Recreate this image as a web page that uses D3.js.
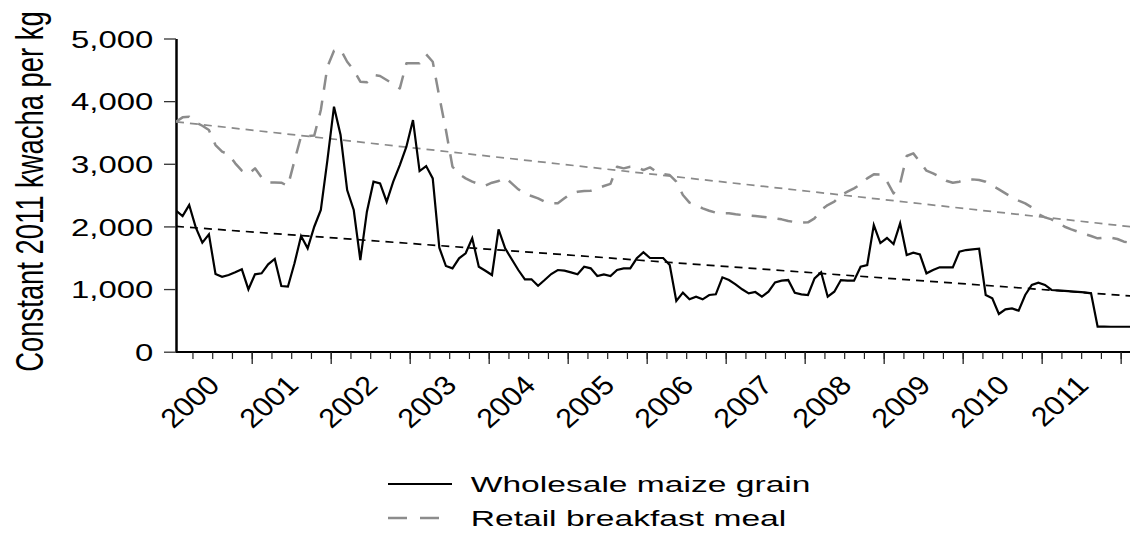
<!DOCTYPE html>
<html>
<head>
<meta charset="utf-8">
<script src="https://cdn.jsdelivr.net/npm/d3@7"></script>
<style>
  html, body { margin: 0; padding: 0; background: #fff; }
  svg { display: block; }
  text { font-family: "Liberation Sans", Arial, sans-serif; fill: #000; }
</style>
</head>
<body>
<svg id="chart" width="1130" height="534"></svg>
<script>
// ---- data (monthly, month index 0 = Jan 2000) ----
const years = [2000, 2001, 2002, 2003, 2004, 2005, 2006, 2007, 2008, 2009, 2010, 2011];
const yTicks = [0, 1000, 2000, 3000, 4000, 5000];
const seriesNames = ["Wholesale maize grain", "Retail breakfast meal"];

const wholesale = [
  2251, 2166, 2341, 1985, 1740, 1874, 1240, 1197, 1224, 1267, 1315, 996,
  1235, 1251, 1395, 1480, 1049, 1038, 1411, 1847, 1650, 1995, 2262, 3060,
  3911, 3459, 2581, 2262, 1464, 2235, 2714, 2688, 2394, 2714, 2980, 3272,
  3698, 2884, 2964, 2767, 1660, 1368, 1331, 1491, 1571, 1810, 1357, 1293,
  1224, 1954, 1650, 1475, 1304, 1156, 1156, 1053, 1144, 1240, 1304, 1293,
  1267, 1235, 1357, 1331, 1208, 1235, 1208, 1304, 1331, 1331, 1491, 1587,
  1496, 1496, 1496, 1384, 809, 942, 836, 878, 836, 905, 916, 1187,
  1144, 1075, 996, 932, 953, 878, 958, 1107, 1134, 1144, 942, 916,
  905, 1171, 1267, 878, 958, 1144, 1134, 1134, 1357, 1384, 2022, 1735,
  1815, 1719, 2049, 1543, 1580, 1554, 1251, 1304, 1347, 1347, 1347, 1596,
  1623, 1634, 1644, 905, 852, 602, 676, 692, 654, 905, 1065, 1102,
  1065, 985, 978, 970, 962, 955, 947, 932, 399, 399, 398, 398,
  398, 398
];

const retail = [
  3671, 3741, 3751, 3660, 3607, 3538, 3299, 3193, 3150, 3007, 2890, 2836,
  2927, 2783, 2703, 2703, 2698, 2645, 3050, 3440, 3440, 3450, 3858, 4549,
  4805, 4826, 4629, 4497, 4310, 4300, 4417, 4401, 4337, 4273, 4204, 4603,
  4603, 4603, 4747, 4629, 4071, 3538, 2953, 2836, 2767, 2714, 2677, 2650,
  2698, 2725, 2783, 2688, 2592, 2517, 2485, 2448, 2394, 2368, 2368, 2448,
  2528, 2554, 2565, 2570, 2608, 2645, 2680, 2953, 2927, 2953, 2953, 2900,
  2942, 2873, 2836, 2820, 2714, 2501, 2379, 2341, 2288, 2251, 2219, 2209,
  2209, 2193, 2182, 2177, 2166, 2155, 2145, 2129, 2113, 2086, 2070, 2060,
  2065, 2129, 2262, 2341, 2394, 2501, 2554, 2608, 2672, 2767, 2831, 2830,
  2720, 2528, 2688, 3124, 3166, 3033, 2890, 2847, 2794, 2730, 2698, 2714,
  2751, 2751, 2740, 2714, 2650, 2592, 2528, 2464, 2411, 2368, 2304, 2198,
  2145, 2113, 2049, 1995, 1954, 1916, 1879, 1847, 1810, 1820, 1820, 1799,
  1756, 1740
];

// linear trend lines (start / end readings)
const trendMonths = [0, 145];
const trendWholesale = [2000, 890];
const trendRetail = [3670, 1995];

// ---- layout ----
const svg = d3.select("#chart");
const lastMonth = wholesale.length - 1;
const x = d3.scaleLinear().domain([0, lastMonth]).range([176, 176 + lastMonth * 6.583]);
const y = d3.scaleLinear().domain([0, 5000]).range([351.7, 38.5]);

// ---- y axis ----
const yAxis = svg.append("g")
  .attr("transform", "translate(176,0)")
  .call(d3.axisLeft(y).tickValues(yTicks).tickFormat(d3.format(",")).tickSize(12).tickSizeOuter(0).tickPadding(10));
yAxis.select(".domain").attr("stroke", "#000").attr("stroke-width", 2.5);
yAxis.selectAll(".tick line").attr("stroke", "#333").attr("stroke-width", 1.3);
yAxis.selectAll(".tick text")
  .attr("x", null).attr("dy", null)
  .attr("font-size", 24)
  .attr("font-family", "Liberation Sans, Arial, sans-serif")
  .attr("text-anchor", "end")
  .attr("transform", "translate(-22.7,8.6) scale(1.37,1)");

// ---- x axis ----
const xAxisY = 352;
const quarterTicks = d3.range(2.5, lastMonth, 3);
const yearBoundaries = d3.range(11.5, lastMonth, 12);
const yearCenters = years.map((yr, k) => k * 12 + 5.5);

const xq = svg.append("g").attr("transform", `translate(0,${xAxisY})`)
  .call(d3.axisBottom(x).tickValues(quarterTicks).tickSize(7).tickSizeOuter(0).tickFormat(""));
xq.select(".domain").attr("stroke", "#000").attr("stroke-width", 2)
  .attr("d", `M176,0H1130`);
xq.selectAll(".tick line").attr("stroke", "#222").attr("stroke-width", 1.2);

const xy = svg.append("g").attr("transform", `translate(0,${xAxisY})`)
  .call(d3.axisBottom(x).tickValues(yearBoundaries).tickSize(12).tickSizeOuter(0).tickFormat(""));
xy.select(".domain").remove();
xy.selectAll(".tick line").attr("stroke", "#222").attr("stroke-width", 1.3);

const xl = svg.append("g").attr("transform", `translate(0,${xAxisY})`)
  .call(d3.axisBottom(x).tickValues(yearCenters).tickSize(0).tickFormat((d, i) => String(years[i])));
xl.select(".domain").remove();
xl.selectAll(".tick text")
  .attr("y", null).attr("dy", null)
  .attr("font-size", 27)
  .attr("font-family", "Liberation Sans, Arial, sans-serif")
  .attr("text-anchor", "end")
  .attr("transform", "translate(8.5,35) scale(1.13,1) rotate(-45)");

// ---- y label ----
svg.append("text")
  .attr("transform", "translate(43,191.5) scale(1.43,1) rotate(-90)")
  .attr("text-anchor", "middle")
  .attr("font-size", 27.4)
  .text("Constant 2011 kwacha per kg");

// ---- clip ----
svg.append("clipPath").attr("id", "plot").append("rect")
  .attr("x", 176).attr("y", 20).attr("width", 1130 - 176).attr("height", 340);
const plot = svg.append("g").attr("clip-path", "url(#plot)");

const line = d3.line().x((d, i) => x(i)).y(d => y(d));
const tline = d3.line().x((d, i) => x(trendMonths[i])).y(d => y(d));

// trends
plot.append("path").datum(trendRetail).attr("d", tline)
  .attr("fill", "none").attr("stroke", "#8a8a8a").attr("stroke-width", 1.7).attr("stroke-dasharray", "8,6");
plot.append("path").datum(trendWholesale).attr("d", tline)
  .attr("fill", "none").attr("stroke", "#000").attr("stroke-width", 1.7).attr("stroke-dasharray", "8,6");

// series
plot.append("path").datum(retail).attr("d", line)
  .attr("fill", "none").attr("stroke", "#8c8c8c").attr("stroke-width", 2.5)
  .attr("stroke-dasharray", "15,11").attr("stroke-linejoin", "round");
plot.append("path").datum(wholesale).attr("d", line)
  .attr("fill", "none").attr("stroke", "#000").attr("stroke-width", 2.2)
  .attr("stroke-linejoin", "miter");

// ---- legend ----
const legend = svg.append("g");
const legendRows = [
  { name: seriesNames[0], y: 484, color: "#000", dash: null, w: 2.2 },
  { name: seriesNames[1], y: 518, color: "#8c8c8c", dash: "19,13", w: 2.5 }
];
legendRows.forEach(r => {
  legend.append("line").attr("x1", 388).attr("x2", 452).attr("y1", r.y).attr("y2", r.y)
    .attr("stroke", r.color).attr("stroke-width", r.w).attr("stroke-dasharray", r.dash);
  legend.append("text")
    .attr("transform", `translate(470.7,${r.y + 8}) scale(1.5,1)`)
    .attr("font-size", 22.4)
    .text(r.name);
});
</script>
</body>
</html>
